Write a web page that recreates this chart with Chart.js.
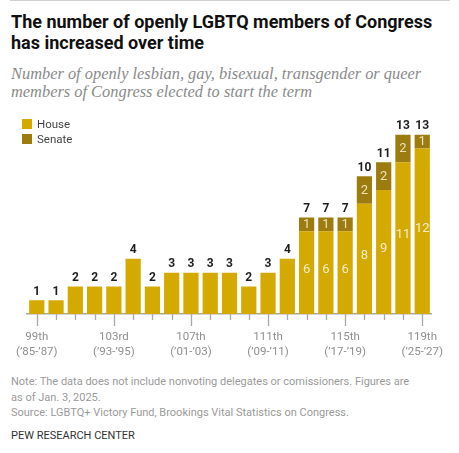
<!DOCTYPE html>
<html>
<head>
<meta charset="utf-8">
<script src="https://cdn.jsdelivr.net/npm/chart.js@4"></script>
<style>
  html, body { margin:0; padding:0; background:#fff; }
  body { width:459px; height:453px; position:relative; overflow:hidden; font-family: Roboto, "Liberation Sans", sans-serif; }
  .topline { position:absolute; left:10px; top:0px; width:440px; height:1px; background:#cfcfcf; }
  .title { position:absolute; left:11px; top:12px; width:448px; font-weight:700; font-size:18px; line-height:20.5px; color:#111; white-space:nowrap; }
  .subtitle { position:absolute; left:11px; top:65px; width:448px; font-family:"Liberation Serif", serif; font-style:italic; font-size:16.4px; line-height:18.3px; color:#8a8a8a; white-space:nowrap; }
  .legend { position:absolute; left:22px; top:117px; font-size:11.5px; color:#444; }
  .legend div { height:15px; line-height:15px; position:relative; padding-left:15px; }
  .legend span { position:absolute; left:0; top:2px; width:10px; height:10px; }
  .notes { position:absolute; left:11px; top:374px; width:448px; font-size:11px; line-height:15.5px; color:#9a9a9a; white-space:nowrap; }
  .pew { position:absolute; left:11px; top:428px; font-size:11px; line-height:16px; color:#333; }
  #wrap { position:absolute; left:0; top:110px; width:459px; height:260px; }
</style>
</head>
<body>
<div class="topline"></div>
<div class="title">The number of openly LGBTQ members of Congress<br>has increased over time</div>
<div class="subtitle">Number of openly lesbian, gay, bisexual, transgender or queer<br>members of Congress elected to start the term</div>
<div id="wrap"><canvas id="c" width="459" height="260"></canvas></div>
<div class="legend">
  <div><span style="background:#d4a900"></span>House</div>
  <div><span style="background:#9c7c0e"></span>Senate</div>
</div>
<div class="notes">Note: The data does not include nonvoting delegates or comissioners. Figures are<br>as of Jan. 3, 2025.<br>Source: LGBTQ+ Victory Fund, Brookings Vital Statistics on Congress.</div>
<div class="pew">PEW RESEARCH CENTER</div>
<script>
const congresses = ['99th','100th','101st','102nd','103rd','104th','105th','106th','107th','108th','109th','110th','111th','112th','113th','114th','115th','116th','117th','118th','119th'];
const years = ['’85-’87','’87-’89','’89-’91','’91-’93','’93-’95','’95-’97','’97-’99','’99-’01','’01-’03','’03-’05','’05-’07','’07-’09','’09-’11','’11-’13','’13-’15','’15-’17','’17-’19','’19-’21','’21-’23','’23-’25','’25-’27'];
const house  = [1,1,2,2,2,4,2,3,3,3,3,2,3,4,6,6,6,8,9,11,12];
const senate = [0,0,0,0,0,0,0,0,0,0,0,0,0,0,1,1,1,2,2,2,1];
const labeledEvery = 4;

const HOUSE_COLOR = '#d4a900';
const SENATE_COLOR = '#9c7c0e';

const tickPlugin = {
  id: 'tickMarks',
  afterDraw(chart) {
    const x = chart.scales.x;
    const ctx = chart.ctx;
    const bottom = chart.chartArea.bottom;
    ctx.save();
    ctx.strokeStyle = '#a8a8a8';
    ctx.lineWidth = 1.3;
    for (let i = 0; i < congresses.length; i++) {
      const px = Math.round(x.getPixelForValue(i)) + 0.5;
      const len = (i % labeledEvery === 0) ? 12 : 6;
      ctx.beginPath();
      ctx.moveTo(px, bottom);
      ctx.lineTo(px, bottom + len);
      ctx.stroke();
    }
    ctx.restore();
  }
};

const labelPlugin = {
  id: 'valueLabels',
  afterDatasetsDraw(chart) {
    const ctx = chart.ctx;
    const mH = chart.getDatasetMeta(0);
    const mS = chart.getDatasetMeta(1);
    ctx.save();
    ctx.textAlign = 'center';
    for (let i = 0; i < congresses.length; i++) {
      const bh = mH.data[i];
      const bs = mS.data[i];
      const total = house[i] + senate[i];
      const topY = senate[i] > 0 ? bs.y : bh.y;
      ctx.fillStyle = '#1e1e1e';
      ctx.font = 'bold 12px Roboto, "Liberation Sans", sans-serif';
      ctx.textBaseline = 'alphabetic';
      ctx.fillText(String(total), bh.x, topY - 5.5);
      if (senate[i] > 0) {
        ctx.font = '13px Roboto, "Liberation Sans", sans-serif';
        ctx.textBaseline = 'middle';
        ctx.fillStyle = '#f6edcb';
        ctx.fillText(String(house[i]), bh.x, (bh.y + bh.base) / 2 - 3);
        ctx.fillStyle = '#ede2bb';
        ctx.fillText(String(senate[i]), bs.x, (bs.y + bs.base) / 2 + 0.5);
      }
    }
    ctx.restore();
  }
};

new Chart(document.getElementById('c'), {
  type: 'bar',
  data: {
    labels: congresses,
    datasets: [
      { label: 'House', data: house, backgroundColor: HOUSE_COLOR, borderWidth: 0, categoryPercentage: 1, barPercentage: 0.79 },
      { label: 'Senate', data: senate, backgroundColor: SENATE_COLOR, borderWidth: 0, categoryPercentage: 1, barPercentage: 0.79 }
    ]
  },
  options: {
    responsive: false,
    animation: false,
    devicePixelRatio: 1,
    layout: { padding: { left: 24, right: 23.5, top: 11, bottom: 10 } },
    plugins: { legend: { display: false }, tooltip: { enabled: false } },
    scales: {
      x: {
        stacked: true,
        grid: { display: false, drawTicks: false },
        border: { display: true, color: '#a8a8a8', width: 1.5 },
        ticks: {
          autoSkip: false, maxRotation: 0, minRotation: 0, padding: 15.5,
          color: '#8f8f8f',
          font: { family: 'Roboto, "Liberation Sans", sans-serif', size: 11.5, lineHeight: 1.3 },
          callback: (v, i) => (i % labeledEvery === 0) ? [congresses[i], '(' + years[i] + ')'] : ''
        },
        afterFit: (s) => { s.height = 46; }
      },
      y: { stacked: true, display: false, min: 0, max: 14 }
    }
  },
  plugins: [tickPlugin, labelPlugin]
});
</script>
</body>
</html>
